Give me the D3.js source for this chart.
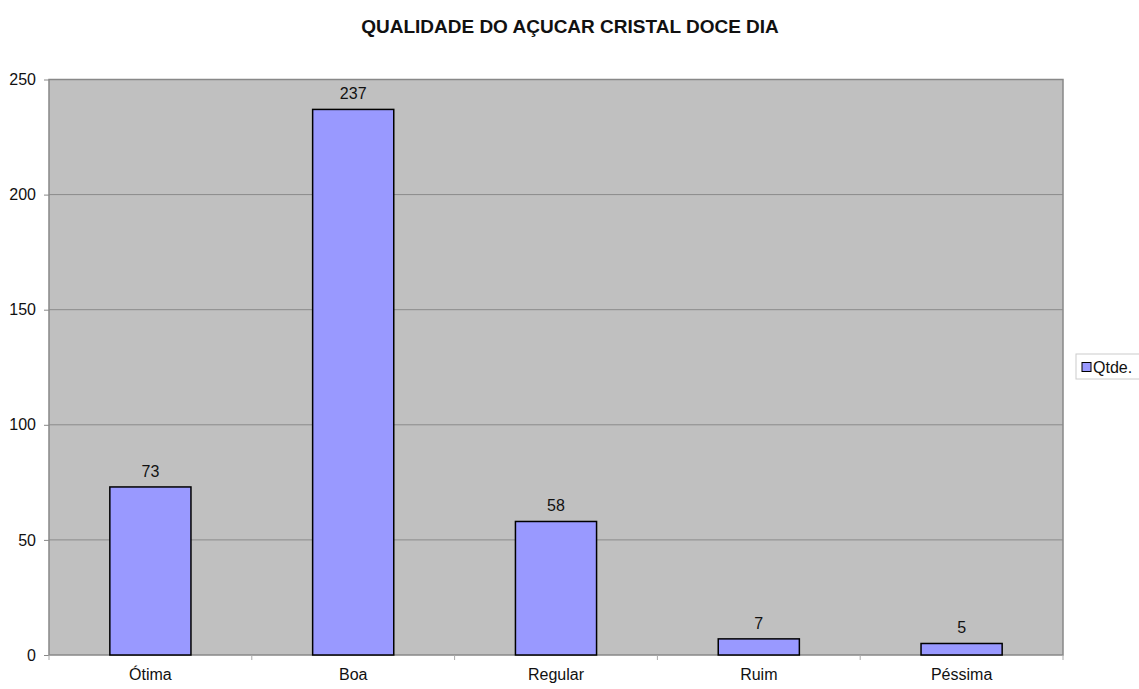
<!DOCTYPE html>
<html><head><meta charset="utf-8">
<script src="https://cdn.jsdelivr.net/npm/d3@7"></script>
<style>body{margin:0;background:#fff}text{font-family:"Liberation Sans",Arial,sans-serif}</style>
</head><body>
<svg id="c" width="1139" height="689"></svg>
<script>
const categories = ["Ótima","Boa","Regular","Ruim","Péssima"];
const values = [73,237,58,7,5];
const yTicks = [0,50,100,150,200,250];
const seriesName = "Qtde.";
const title = "QUALIDADE DO AÇUCAR CRISTAL DOCE DIA";

const svg = d3.select("#c");
const L=49, R=1063, T=79.5, B=655;
const x = d3.scaleBand().domain(categories).range([L,R]).paddingInner(0).paddingOuter(0);
const y = d3.scaleLinear().domain([0,250]).range([B,T]);

svg.append("rect").attr("x",L).attr("y",T).attr("width",R-L).attr("height",B-T).attr("fill","#c0c0c0");
svg.append("g").selectAll("line").data(yTicks.filter(d=>d>0&&d<250)).join("line")
  .attr("x1",L).attr("x2",R).attr("y1",d=>y(d)).attr("y2",d=>y(d)).attr("stroke","#8a8a8a").attr("stroke-width",1);
svg.append("rect").attr("x",L).attr("y",T).attr("width",R-L).attr("height",B-T).attr("fill","none").attr("stroke","#888").attr("stroke-width",1.5);

const bw = x.bandwidth()*0.4;
svg.append("g").selectAll("rect").data(values).join("rect")
  .attr("x",(d,i)=>x(categories[i])+x.bandwidth()/2-bw/2).attr("width",bw)
  .attr("y",d=>y(d)).attr("height",d=>B-y(d))
  .attr("fill","#9999ff").attr("stroke","#000").attr("stroke-width",1.5);
svg.append("g").selectAll("text").data(values).join("text")
  .attr("x",(d,i)=>x(categories[i])+x.bandwidth()/2).attr("y",d=>y(d)-10)
  .attr("text-anchor","middle").attr("font-size",16).attr("fill","#111").text(d=>d);

// y axis
const ya = svg.append("g").attr("transform",`translate(${L},0)`)
  .call(d3.axisLeft(y).tickValues(yTicks).tickSize(5).tickPadding(8));
ya.select(".domain").remove();
ya.selectAll("line").attr("stroke","#888");
ya.selectAll("text").attr("font-size",16).attr("fill","#111").attr("font-family","Liberation Sans, Arial, sans-serif");

// x axis
const xa = svg.append("g").attr("transform",`translate(0,${B})`)
  .call(d3.axisBottom(x).tickSize(0).tickPadding(14));
xa.select(".domain").remove();
xa.selectAll("text").attr("font-size",16).attr("fill","#111").attr("font-family","Liberation Sans, Arial, sans-serif");
svg.append("g").selectAll("line").data(d3.range(categories.length+1)).join("line")
  .attr("x1",i=>L+i*x.step()).attr("x2",i=>L+i*x.step()).attr("y1",B).attr("y2",B+5).attr("stroke","#aaa");

svg.append("text").attr("x",570).attr("y",33).attr("text-anchor","middle")
  .attr("font-size",19).attr("font-weight","bold").attr("fill","#111").text(title);

// legend
const lg = svg.append("g");
lg.append("rect").attr("x",1076).attr("y",354).attr("width",70).attr("height",25).attr("fill","#fff").attr("stroke","#ccc");
lg.append("rect").attr("x",1082).attr("y",362.5).attr("width",9).attr("height",9).attr("fill","#9999ff").attr("stroke","#000");
lg.append("text").attr("x",1093).attr("y",373).attr("font-size",16).attr("fill","#111").text(seriesName);
</script>
</body></html>
